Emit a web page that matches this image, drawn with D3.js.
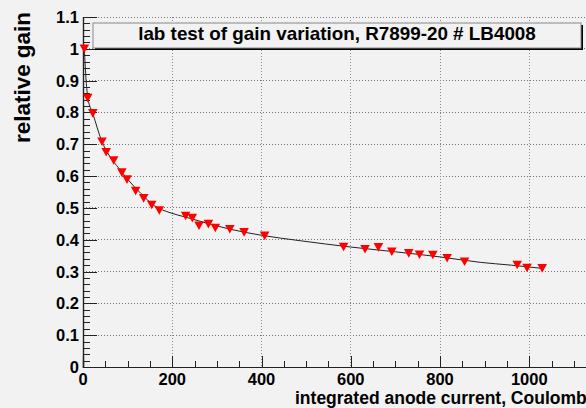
<!DOCTYPE html>
<html>
<head>
<meta charset="utf-8">
<script src="https://cdn.jsdelivr.net/npm/d3@7/dist/d3.min.js"></script>
<style>
html,body{margin:0;padding:0;background:#f2f2f2;}
svg{display:block;}
text{font-family:"Liberation Sans",Arial,Helvetica,sans-serif;font-weight:bold;fill:#000;}
</style>
</head>
<body>
<svg id="c" width="586" height="408"></svg>
<script>
// ---- data ----
const titleText = "lab test of gain variation, R7899-20 # LB4008";
const xTitle = "integrated anode current, Coulomb";
const yTitle = "relative gain";

const charge = [3, 10.5, 22, 42.6, 52, 68.8, 87, 98.6, 118, 136, 154, 171,
  230, 245, 260, 281, 296.5, 329, 361, 407,
  584, 632, 662, 692, 730, 754, 784, 816, 855, 973, 995, 1029];
const gain = [1.0, 0.845, 0.797, 0.708, 0.675, 0.649, 0.611, 0.589, 0.553, 0.530, 0.509, 0.492,
  0.4746, 0.468, 0.444, 0.449, 0.437, 0.433, 0.423, 0.412,
  0.377, 0.370, 0.376, 0.362, 0.357, 0.353, 0.352, 0.342, 0.331, 0.3205, 0.311, 0.310];

// fitted curve as drawn in the picture
const fitX = [3, 7, 11, 22, 42, 60, 80, 100, 130, 160, 195, 230, 280, 330, 400, 486, 600, 700, 800, 890, 960, 1029];
const fitY = [1.0, 0.90, 0.845, 0.797, 0.71, 0.662, 0.625, 0.59, 0.545, 0.507, 0.485, 0.471, 0.451, 0.433, 0.414, 0.397, 0.377, 0.362, 0.346, 0.329, 0.320, 0.310];

const xMajor = [0, 200, 400, 600, 800, 1000, 1200];
const yMajor = [0, 0.1, 0.2, 0.3, 0.4, 0.5, 0.6, 0.7, 0.8, 0.9, 1.0, 1.1];
const yLabels = ["0", "0.1", "0.2", "0.3", "0.4", "0.5", "0.6", "0.7", "0.8", "0.9", "1", "1.1"];

// ---- layout ----
const L = 83, B = 367, T = 17;
const svg = d3.select("#c");
svg.append("rect").attr("width", 586).attr("height", 408).attr("fill", "#f2f2f2");

const x = d3.scaleLinear().domain([0, 1160]).range([L, L + 1160 * 0.44625]);
const y = d3.scaleLinear().domain([0, 1.1]).range([B, T]);
const R = x(1160);

// grid
const g = svg.append("g");
g.selectAll(".hg").data(yMajor.slice(1)).enter().append("line")
  .attr("x1", L).attr("x2", R).attr("y1", d => y(d)).attr("y2", d => y(d))
  .attr("stroke", "#777").attr("stroke-width", 1).attr("stroke-dasharray", "1,2")
  .attr("shape-rendering", "crispEdges");
g.selectAll(".vg").data(xMajor.slice(1)).enter().append("line")
  .attr("x1", d => x(d)).attr("x2", d => x(d)).attr("y1", T).attr("y2", B)
  .attr("stroke", "#888").attr("stroke-width", 1).attr("stroke-dasharray", "1,2")
  .attr("shape-rendering", "crispEdges");

// axes (ROOT style: ticks inside)
const yAxis = d3.axisRight(y).tickValues(yMajor).tickSize(14).tickFormat("");
const yMinor = d3.axisRight(y).tickValues(d3.range(0, 1.1001, 0.02)).tickSize(7).tickFormat("");
const ya = svg.append("g").attr("transform", `translate(${L},0)`).call(yAxis);
const ym = svg.append("g").attr("transform", `translate(${L},0)`).call(yMinor);
const xAxis = d3.axisTop(x).tickValues(xMajor).tickSize(11).tickFormat("");
const xMinor = d3.axisTop(x).tickValues(d3.range(0, 1160, 50)).tickSize(6).tickFormat("");
const xa = svg.append("g").attr("transform", `translate(0,${B})`).call(xAxis);
const xm = svg.append("g").attr("transform", `translate(0,${B})`).call(xMinor);
[ya, ym, xa, xm].forEach(a => {
  a.select(".domain").attr("stroke", "#222").attr("stroke-width", 1.2);
  a.selectAll(".tick line").attr("stroke", "#222").attr("stroke-width", 1).attr("shape-rendering", "crispEdges");
});

// tick labels
svg.append("g").selectAll("text").data(yMajor).enter().append("text")
  .attr("x", 79).attr("y", d => y(d) + 6).attr("text-anchor", "end")
  .attr("font-size", 16.5).text((d, i) => yLabels[i]);
svg.append("g").selectAll("text").data(xMajor).enter().append("text")
  .attr("x", d => x(d)).attr("y", 384.5).attr("text-anchor", "middle")
  .attr("font-size", 16.5).text(d => d3.format("d")(d));

// axis titles
const xt = svg.append("text").attr("x", 295).attr("y", 404).attr("font-size", 16.5).text(xTitle);
xt.attr("font-size", 16.5 * 292 / xt.node().getComputedTextLength());
const yt = svg.append("text").attr("transform", "translate(30,12) rotate(-90)")
  .attr("text-anchor", "end").attr("font-size", 19).text(yTitle);
yt.attr("font-size", 19 * 131 / yt.node().getComputedTextLength());

// fit curve
const line = d3.line().x(d => x(d[0])).y(d => y(d[1])).curve(d3.curveMonotoneX);
svg.append("path").datum(fitX.map((v, i) => [v, fitY[i]]))
  .attr("d", line).attr("fill", "none").attr("stroke", "#222").attr("stroke-width", 1);

// markers (downward triangles)
svg.append("g").selectAll("path").data(charge.map((v, i) => [v, gain[i]])).enter().append("path")
  .attr("transform", d => `translate(${x(d[0])},${y(d[1])})`)
  .attr("d", "M-4.8,-4.3L4.8,-4.3L0,4.3Z").attr("fill", "#ff0000");

// title box
const bx = 93, by = 23, bw = 488, bh = 25;
svg.append("rect").attr("x", bx + 2).attr("y", by + 2).attr("width", bw).attr("height", bh).attr("fill", "#000");
svg.append("rect").attr("x", bx).attr("y", by).attr("width", bw).attr("height", bh)
  .attr("fill", "#f2f2f2").attr("stroke", "#888").attr("stroke-width", 1);
const tt = svg.append("text").attr("x", bx + bw / 2).attr("y", 40).attr("text-anchor", "middle")
  .attr("font-size", 16).text(titleText);
const w = tt.node().getComputedTextLength();
tt.attr("font-size", 16 * 398 / w);
</script>
</body>
</html>
